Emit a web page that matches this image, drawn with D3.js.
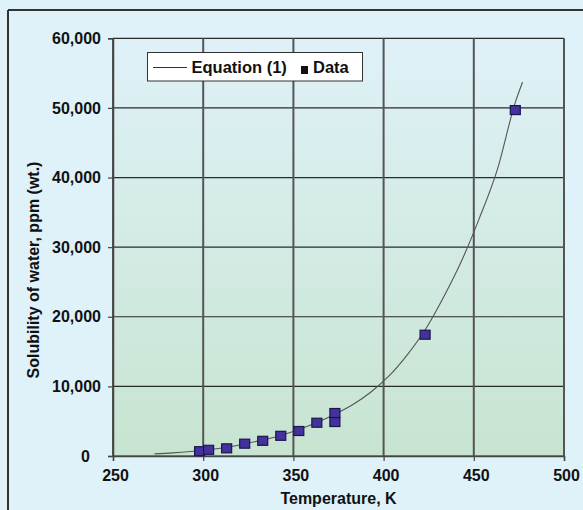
<!DOCTYPE html>
<html><head><meta charset="utf-8">
<script src="https://cdn.jsdelivr.net/npm/d3@7"></script>
<style>
html,body{margin:0;padding:0;background:#dff2f9;}
svg{display:block;font-family:"Liberation Sans",Arial,sans-serif;}
</style></head><body>
<svg id="chart" width="583" height="510"></svg>
<script>
// Equation (1) curve
const curveT   = [273, 283, 293, 303, 313, 323, 333, 343, 353, 363, 373, 383, 393, 403, 413, 423, 433, 443, 453, 463, 473, 477];
const curvePpm = [300, 450, 650, 900, 1250, 1750, 2300, 2950, 3800, 4800, 6000, 7400, 9200, 11500, 14500, 18100, 22700, 27900, 34100, 41100, 50800, 53700];
// Measured data
const dataT   = [298, 303, 313, 323, 333, 343, 353, 363, 373, 373, 423, 473];
const dataPpm = [690, 890, 1100, 1770, 2180, 2900, 3590, 4780, 4880, 6175, 17420, 49690];
// Axes
const xTicks = [250, 300, 350, 400, 450, 500];
const yTicks = [0, 10000, 20000, 30000, 40000, 50000, 60000];
const xTitle = "Temperature, K";
const yTitle = "Solubility of water, ppm (wt.)";
const legendLabels = ["Equation (1)", "Data"];

const svg = d3.select("#chart");
const X0 = 113, X1 = 564, Y0 = 456, Y1 = 38.3;
const x = d3.scaleLinear().domain([250, 500]).range([X0, X1]);
const y = d3.scaleLinear().domain([0, 60000]).range([Y0, Y1]);

// outer frame
svg.append("line").attr("x1", 8).attr("x2", 583).attr("y1", 10).attr("y2", 10)
  .attr("stroke", "#333").attr("stroke-width", 2);
svg.append("line").attr("x1", 8).attr("x2", 8).attr("y1", 10).attr("y2", 510)
  .attr("stroke", "#333").attr("stroke-width", 2);

// plot background gradient
const defs = svg.append("defs");
const g = defs.append("linearGradient").attr("id", "bg").attr("x1", 0).attr("x2", 0).attr("y1", 0).attr("y2", 1);
g.append("stop").attr("offset", "0%").attr("stop-color", "#dff1f8");
g.append("stop").attr("offset", "100%").attr("stop-color", "#c7e4d0");
svg.append("rect").attr("x", X0).attr("y", Y1).attr("width", X1 - X0).attr("height", Y0 - Y1)
  .attr("fill", "url(#bg)");

// gridlines
svg.append("g").selectAll("line").data(yTicks).join("line")
  .attr("x1", X0).attr("x2", X1).attr("y1", d => y(d)).attr("y2", d => y(d))
  .attr("stroke", "#2a2a2a").attr("stroke-width", 1.2);
svg.append("g").selectAll("line").data(xTicks).join("line")
  .attr("x1", d => x(d)).attr("x2", d => x(d)).attr("y1", Y1).attr("y2", Y0)
  .attr("stroke", "#555").attr("stroke-width", 2);

// axes
const fmt = d3.format(",");
const yAxis = svg.append("g").attr("transform", `translate(${X0},0)`)
  .call(d3.axisLeft(y).tickValues(yTicks).tickSize(5).tickPadding(7).tickFormat(fmt));
const xAxis = svg.append("g").attr("transform", `translate(0,${Y0})`)
  .call(d3.axisBottom(x).tickValues(xTicks).tickSize(5).tickPadding(9).tickFormat(d3.format("d")));
[yAxis, xAxis].forEach(a => {
  a.select(".domain").attr("stroke", "#444").attr("stroke-width", 1.5);
  a.selectAll(".tick line").attr("stroke", "#444").attr("stroke-width", 1.2);
  a.selectAll("text").attr("font-size", "16px").attr("font-weight", "bold").attr("fill", "#111")
    .attr("font-family", '"Liberation Sans",Arial,sans-serif');
});
yAxis.selectAll(".tick text").filter(d => d === 0).attr("dx", "-11");
xAxis.selectAll(".tick text").attr("dx", "2");

// titles
svg.append("text").attr("x", (X0 + X1) / 2).attr("y", 504).attr("text-anchor", "middle")
  .attr("font-size", "16px").attr("font-weight", "bold").attr("fill", "#111").text(xTitle);
svg.append("text").attr("transform", "translate(39,270) rotate(-90)").attr("text-anchor", "middle")
  .attr("font-size", "16px").attr("font-weight", "bold").attr("fill", "#111").text(yTitle);

// curve
const line = d3.line().x((d, i) => x(curveT[i])).y((d, i) => y(curvePpm[i])).curve(d3.curveMonotoneX);
svg.append("path").datum(curvePpm).attr("d", line).attr("fill", "none")
  .attr("stroke", "#555").attr("stroke-width", 1.1);

// data squares
svg.append("g").selectAll("rect").data(dataPpm).join("rect")
  .attr("x", (d, i) => x(dataT[i]) - 5).attr("y", d => y(d) - 4.5)
  .attr("width", 10).attr("height", 9)
  .attr("fill", "#43329e").attr("stroke", "#1c1450").attr("stroke-width", 1.2);

// legend
const lg = svg.append("g");
lg.append("rect").attr("x", 147.5).attr("y", 52.5).attr("width", 215).attr("height", 28.5)
  .attr("fill", "#fff").attr("stroke", "#333").attr("stroke-width", 1);
lg.append("line").attr("x1", 153).attr("x2", 187).attr("y1", 67.5).attr("y2", 67.5)
  .attr("stroke", "#333").attr("stroke-width", 1);
lg.append("text").attr("x", 191.5).attr("y", 73).attr("font-size", "16.5px").attr("font-weight", "bold")
  .attr("fill", "#111").text(legendLabels[0]);
lg.append("rect").attr("x", 301).attr("y", 66).attr("width", 7).attr("height", 8).attr("fill", "#111");
lg.append("text").attr("x", 313).attr("y", 73).attr("font-size", "16.5px").attr("font-weight", "bold")
  .attr("fill", "#111").text(legendLabels[1]);
</script>
</body></html>
